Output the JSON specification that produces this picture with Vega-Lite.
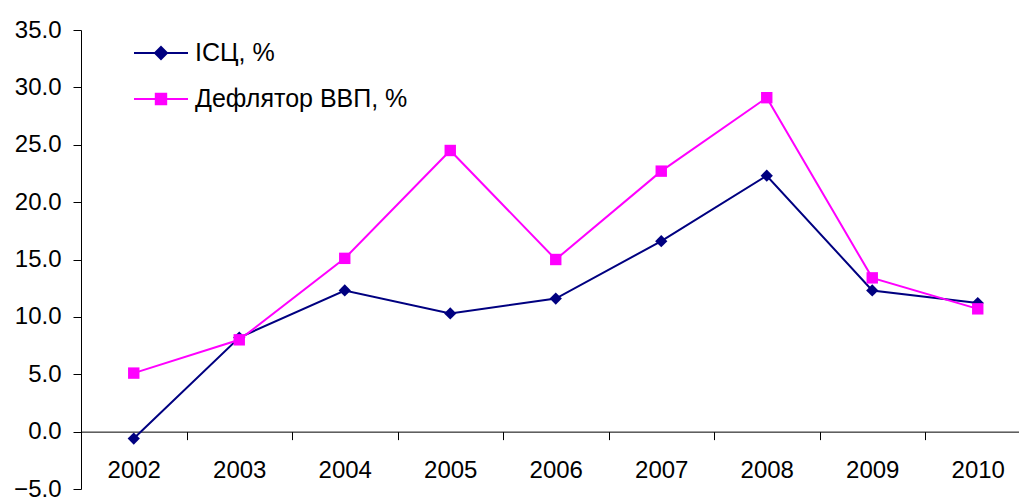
{
  "$schema": "https://vega.github.io/schema/vega-lite/v6.json",
  "width": 949.5,
  "height": 459,
  "autosize": "none",
  "padding": {"left": 81, "top": 30, "right": 0, "bottom": 9},
  "config": {
    "view": {"stroke": null},
    "font": "Liberation Sans",
    "axis": {
      "grid": false,
      "domainColor": "#000000",
      "tickColor": "#000000",
      "labelColor": "#000000",
      "labelFont": "Liberation Sans",
      "labelFontSize": 24,
      "tickSize": 8,
      "title": null
    }
  },
  "data": {
    "values": [
      {"year": "2002", "series": "ІСЦ, %", "value": -0.6},
      {"year": "2003", "series": "ІСЦ, %", "value": 8.2},
      {"year": "2004", "series": "ІСЦ, %", "value": 12.3},
      {"year": "2005", "series": "ІСЦ, %", "value": 10.3},
      {"year": "2006", "series": "ІСЦ, %", "value": 11.6},
      {"year": "2007", "series": "ІСЦ, %", "value": 16.6},
      {"year": "2008", "series": "ІСЦ, %", "value": 22.3},
      {"year": "2009", "series": "ІСЦ, %", "value": 12.3},
      {"year": "2010", "series": "ІСЦ, %", "value": 11.2},
      {"year": "2002", "series": "Дефлятор ВВП, %", "value": 5.1},
      {"year": "2003", "series": "Дефлятор ВВП, %", "value": 8.0},
      {"year": "2004", "series": "Дефлятор ВВП, %", "value": 15.1},
      {"year": "2005", "series": "Дефлятор ВВП, %", "value": 24.5},
      {"year": "2006", "series": "Дефлятор ВВП, %", "value": 15.0},
      {"year": "2007", "series": "Дефлятор ВВП, %", "value": 22.7},
      {"year": "2008", "series": "Дефлятор ВВП, %", "value": 29.1},
      {"year": "2009", "series": "Дефлятор ВВП, %", "value": 13.4},
      {"year": "2010", "series": "Дефлятор ВВП, %", "value": 10.7}
    ]
  },
  "encoding": {
    "x": {
      "field": "year",
      "type": "ordinal",
      "bandPosition": 0.5,
      "scale": {"type": "band", "paddingInner": 0, "paddingOuter": 0},
      "axis": {
        "tickBand": "extent",
        "offset": -57.375,
        "labelPadding": 19,
        "labelAngle": 0,
        "title": null
      }
    },
    "y": {
      "field": "value",
      "type": "quantitative",
      "scale": {"domain": [-5, 35], "nice": false, "zero": false},
      "axis": {
        "values": [-5, 0, 5, 10, 15, 20, 25, 30, 35],
        "format": ".1f",
        "labelPadding": 12,
        "title": null
      }
    }
  },
  "layer": [
    {
      "mark": {"type": "line", "strokeWidth": 2},
      "encoding": {
        "color": {
          "field": "series",
          "type": "nominal",
          "scale": {"domain": ["ІСЦ, %", "Дефлятор ВВП, %"], "range": ["#000080", "#FF00FF"]},
          "legend": {
            "orient": "none",
            "legendX": 59,
            "legendY": 2,
            "title": null,
            "padding": 0,
            "labelFont": "Liberation Sans",
            "labelFontSize": 25,
            "labelColor": "#000000",
            "labelLimit": 500,
            "labelOffset": 13,
            "symbolSize": 1600,
            "rowPadding": 12,
            "symbolStrokeWidth": 2,
            "encode": {
              "symbols": {
                "update": {
                  "shape": {"signal": "datum.value === 'ІСЦ, %' ? 'M-1.35,0H1.35M0,-0.3L0.3,0L0,0.3L-0.3,0Z' : 'M-1.35,0H1.35M-0.26,-0.26H0.26V0.26H-0.26Z'"},
                  "fill": {"signal": "datum.value === 'ІСЦ, %' ? '#000080' : '#FF00FF'"},
                  "stroke": {"signal": "datum.value === 'ІСЦ, %' ? '#000080' : '#FF00FF'"},
                  "strokeWidth": {"value": 2},
                  "opacity": {"value": 1},
                  "fillOpacity": {"value": 1}
                }
              }
            }
          }
        }
      }
    },
    {
      "transform": [{"filter": "datum.series === 'ІСЦ, %'"}],
      "mark": {"type": "point", "filled": true, "opacity": 1, "size": 150, "shape": "diamond", "color": "#000080"}
    },
    {
      "transform": [{"filter": "datum.series === 'Дефлятор ВВП, %'"}],
      "mark": {"type": "point", "filled": true, "opacity": 1, "size": 130, "shape": "square", "color": "#FF00FF"}
    }
  ]
}
